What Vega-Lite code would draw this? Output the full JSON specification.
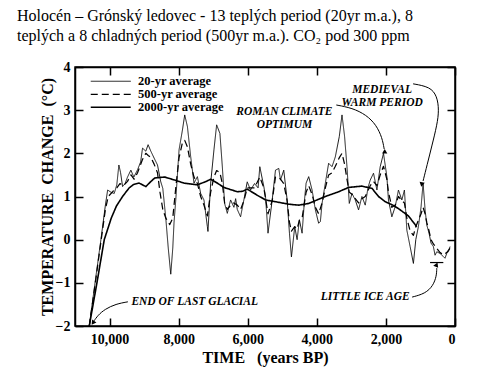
{
  "$schema": "https://vega.github.io/schema/vega-lite/v6.json",
  "width": 380,
  "height": 259,
  "autosize": {"type": "none"},
  "padding": {"left": 75, "top": 67, "right": 45, "bottom": 47},
  "background": "white",
  "title": {
    "text": ["Holocén – Grónský ledovec - 13 teplých period (20yr m.a.), 8", "teplých a 8 chladných period (500yr m.a.). CO₂ pod 300 ppm"],
    "anchor": "start", "frame": "group", "dx": -58, "offset": 16,
    "font": "Liberation Serif", "fontSize": 16, "fontWeight": "normal", "color": "black", "lineHeight": 20
  },
  "config": {
    "view": {"stroke": "black", "strokeWidth": 1.5},
    "axis": {
      "grid": false, "domainColor": "black", "domainWidth": 1.5, "tickColor": "black", "tickWidth": 1.5, "tickSize": -8,
      "labelFont": "Liberation Serif", "labelFontWeight": "bold", "labelFontSize": 14, "labelColor": "black",
      "titleFont": "Liberation Serif", "titleFontWeight": "bold", "titleFontSize": 16, "titleColor": "black"
    }
  },
  "datasets": {
    "series": [
      {"series":"20-yr average","year":10587,"temp":-2.0},{"series":"20-yr average","year":10420,"temp":-1.0},{"series":"20-yr average","year":10250,"temp":0.0},{"series":"20-yr average","year":10120,"temp":0.8},{"series":"20-yr average","year":10055,"temp":1.15},{"series":"20-yr average","year":9960,"temp":1.1},{"series":"20-yr average","year":9865,"temp":1.07},{"series":"20-yr average","year":9790,"temp":1.27},{"series":"20-yr average","year":9730,"temp":1.73},{"series":"20-yr average","year":9680,"temp":1.55},{"series":"20-yr average","year":9623,"temp":1.23},{"series":"20-yr average","year":9550,"temp":1.3},{"series":"20-yr average","year":9480,"temp":1.45},{"series":"20-yr average","year":9383,"temp":1.61},{"series":"20-yr average","year":9296,"temp":1.45},{"series":"20-yr average","year":9189,"temp":1.62},{"series":"20-yr average","year":9100,"temp":1.8},{"series":"20-yr average","year":9045,"temp":2.12},{"series":"20-yr average","year":8950,"temp":2.05},{"series":"20-yr average","year":8884,"temp":2.2},{"series":"20-yr average","year":8805,"temp":2.05},{"series":"20-yr average","year":8710,"temp":1.89},{"series":"20-yr average","year":8612,"temp":1.73},{"series":"20-yr average","year":8517,"temp":1.34},{"series":"20-yr average","year":8459,"temp":1.19},{"series":"20-yr average","year":8372,"temp":0.5},{"series":"20-yr average","year":8300,"temp":-0.2},{"series":"20-yr average","year":8228,"temp":-0.8},{"series":"20-yr average","year":8170,"temp":-0.2},{"series":"20-yr average","year":8133,"temp":0.4},{"series":"20-yr average","year":8083,"temp":0.92},{"series":"20-yr average","year":7988,"temp":2.08},{"series":"20-yr average","year":7890,"temp":2.54},{"series":"20-yr average","year":7824,"temp":2.89},{"series":"20-yr average","year":7746,"temp":2.62},{"series":"20-yr average","year":7651,"temp":1.92},{"series":"20-yr average","year":7555,"temp":1.31},{"series":"20-yr average","year":7457,"temp":1.46},{"series":"20-yr average","year":7362,"temp":1.07},{"series":"20-yr average","year":7267,"temp":0.92},{"series":"20-yr average","year":7168,"temp":0.3},{"series":"20-yr average","year":7151,"temp":0.19},{"series":"20-yr average","year":7073,"temp":1.31},{"series":"20-yr average","year":6978,"temp":2.08},{"series":"20-yr average","year":6900,"temp":2.66},{"series":"20-yr average","year":6805,"temp":2.46},{"series":"20-yr average","year":6735,"temp":1.69},{"series":"20-yr average","year":6669,"temp":0.84},{"series":"20-yr average","year":6591,"temp":0.61},{"series":"20-yr average","year":6496,"temp":0.92},{"series":"20-yr average","year":6400,"temp":0.75},{"series":"20-yr average","year":6350,"temp":0.95},{"series":"20-yr average","year":6302,"temp":0.7},{"series":"20-yr average","year":6207,"temp":0.53},{"series":"20-yr average","year":6112,"temp":0.92},{"series":"20-yr average","year":6014,"temp":1.34},{"series":"20-yr average","year":5918,"temp":1.15},{"series":"20-yr average","year":5803,"temp":1.3},{"series":"20-yr average","year":5700,"temp":1.2},{"series":"20-yr average","year":5650,"temp":1.69},{"series":"20-yr average","year":5534,"temp":1.23},{"series":"20-yr average","year":5485,"temp":1.0},{"series":"20-yr average","year":5413,"temp":0.15},{"series":"20-yr average","year":5292,"temp":0.92},{"series":"20-yr average","year":5197,"temp":1.61},{"series":"20-yr average","year":5101,"temp":1.65},{"series":"20-yr average","year":5052,"temp":1.38},{"series":"20-yr average","year":4957,"temp":1.61},{"series":"20-yr average","year":4859,"temp":0.92},{"series":"20-yr average","year":4792,"temp":0.15},{"series":"20-yr average","year":4735,"temp":-0.4},{"series":"20-yr average","year":4639,"temp":0.3},{"series":"20-yr average","year":4570,"temp":0.0},{"series":"20-yr average","year":4504,"temp":0.46},{"series":"20-yr average","year":4426,"temp":0.15},{"series":"20-yr average","year":4359,"temp":0.9},{"series":"20-yr average","year":4310,"temp":1.31},{"series":"20-yr average","year":4235,"temp":1.46},{"series":"20-yr average","year":4137,"temp":1.15},{"series":"20-yr average","year":4042,"temp":0.69},{"series":"20-yr average","year":3947,"temp":0.38},{"series":"20-yr average","year":3897,"temp":0.42},{"series":"20-yr average","year":3848,"temp":0.84},{"series":"20-yr average","year":3753,"temp":1.31},{"series":"20-yr average","year":3658,"temp":1.77},{"series":"20-yr average","year":3560,"temp":1.69},{"series":"20-yr average","year":3464,"temp":1.92},{"series":"20-yr average","year":3349,"temp":2.39},{"series":"20-yr average","year":3271,"temp":2.89},{"series":"20-yr average","year":3196,"temp":2.39},{"series":"20-yr average","year":3127,"temp":1.69},{"series":"20-yr average","year":3060,"temp":0.84},{"series":"20-yr average","year":2982,"temp":1.07},{"series":"20-yr average","year":2887,"temp":0.92},{"series":"20-yr average","year":2792,"temp":0.69},{"series":"20-yr average","year":2694,"temp":1.0},{"series":"20-yr average","year":2598,"temp":0.8},{"series":"20-yr average","year":2520,"temp":1.2},{"series":"20-yr average","year":2454,"temp":1.38},{"series":"20-yr average","year":2359,"temp":1.54},{"series":"20-yr average","year":2260,"temp":1.15},{"series":"20-yr average","year":2165,"temp":1.69},{"series":"20-yr average","year":2070,"temp":2.0},{"series":"20-yr average","year":1972,"temp":1.46},{"series":"20-yr average","year":1926,"temp":0.92},{"series":"20-yr average","year":1828,"temp":0.53},{"series":"20-yr average","year":1732,"temp":0.76},{"series":"20-yr average","year":1637,"temp":1.15},{"series":"20-yr average","year":1539,"temp":0.92},{"series":"20-yr average","year":1464,"temp":1.15},{"series":"20-yr average","year":1394,"temp":0.22},{"series":"20-yr average","year":1299,"temp":-0.16},{"series":"20-yr average","year":1204,"temp":-0.55},{"series":"20-yr average","year":1135,"temp":0.0},{"series":"20-yr average","year":1060,"temp":0.3},{"series":"20-yr average","year":982,"temp":0.76},{"series":"20-yr average","year":924,"temp":1.31},{"series":"20-yr average","year":866,"temp":0.69},{"series":"20-yr average","year":817,"temp":0.34},{"series":"20-yr average","year":751,"temp":0.15},{"series":"20-yr average","year":693,"temp":-0.08},{"series":"20-yr average","year":626,"temp":-0.16},{"series":"20-yr average","year":577,"temp":-0.36},{"series":"20-yr average","year":528,"temp":-0.28},{"series":"20-yr average","year":433,"temp":-0.32},{"series":"20-yr average","year":338,"temp":-0.39},{"series":"20-yr average","year":289,"temp":-0.43},{"series":"20-yr average","year":240,"temp":-0.32},{"series":"20-yr average","year":193,"temp":-0.28},{"series":"20-yr average","year":144,"temp":-0.16},
      {"series":"500-yr average","year":10587,"temp":-2.0},{"series":"500-yr average","year":10420,"temp":-1.05},{"series":"500-yr average","year":10250,"temp":-0.05},{"series":"500-yr average","year":10120,"temp":0.7},{"series":"500-yr average","year":10038,"temp":1.0},{"series":"500-yr average","year":9900,"temp":1.12},{"series":"500-yr average","year":9790,"temp":1.2},{"series":"500-yr average","year":9700,"temp":1.3},{"series":"500-yr average","year":9600,"temp":1.25},{"series":"500-yr average","year":9480,"temp":1.35},{"series":"500-yr average","year":9380,"temp":1.5},{"series":"500-yr average","year":9290,"temp":1.4},{"series":"500-yr average","year":9190,"temp":1.55},{"series":"500-yr average","year":9050,"temp":1.85},{"series":"500-yr average","year":8950,"temp":2.0},{"series":"500-yr average","year":8880,"temp":1.95},{"series":"500-yr average","year":8800,"temp":1.9},{"series":"500-yr average","year":8710,"temp":1.75},{"series":"500-yr average","year":8612,"temp":1.55},{"series":"500-yr average","year":8540,"temp":1.1},{"series":"500-yr average","year":8459,"temp":0.7},{"series":"500-yr average","year":8372,"temp":0.5},{"series":"500-yr average","year":8257,"temp":0.35},{"series":"500-yr average","year":8170,"temp":0.5},{"series":"500-yr average","year":8083,"temp":1.2},{"series":"500-yr average","year":7988,"temp":1.9},{"series":"500-yr average","year":7890,"temp":2.25},{"series":"500-yr average","year":7824,"temp":2.3},{"series":"500-yr average","year":7746,"temp":2.15},{"series":"500-yr average","year":7651,"temp":1.75},{"series":"500-yr average","year":7555,"temp":1.45},{"series":"500-yr average","year":7457,"temp":1.3},{"series":"500-yr average","year":7362,"temp":1.0},{"series":"500-yr average","year":7267,"temp":0.8},{"series":"500-yr average","year":7168,"temp":0.55},{"series":"500-yr average","year":7073,"temp":1.1},{"series":"500-yr average","year":6978,"temp":1.45},{"series":"500-yr average","year":6900,"temp":1.6},{"series":"500-yr average","year":6805,"temp":1.55},{"series":"500-yr average","year":6735,"temp":1.3},{"series":"500-yr average","year":6669,"temp":0.85},{"series":"500-yr average","year":6591,"temp":0.7},{"series":"500-yr average","year":6496,"temp":0.8},{"series":"500-yr average","year":6400,"temp":0.85},{"series":"500-yr average","year":6302,"temp":0.8},{"series":"500-yr average","year":6207,"temp":0.7},{"series":"500-yr average","year":6112,"temp":0.9},{"series":"500-yr average","year":6014,"temp":1.2},{"series":"500-yr average","year":5918,"temp":1.2},{"series":"500-yr average","year":5803,"temp":1.2},{"series":"500-yr average","year":5650,"temp":1.45},{"series":"500-yr average","year":5534,"temp":1.2},{"series":"500-yr average","year":5413,"temp":0.6},{"series":"500-yr average","year":5292,"temp":0.9},{"series":"500-yr average","year":5197,"temp":1.45},{"series":"500-yr average","year":5101,"temp":1.45},{"series":"500-yr average","year":5052,"temp":1.4},{"series":"500-yr average","year":4957,"temp":1.3},{"series":"500-yr average","year":4859,"temp":0.9},{"series":"500-yr average","year":4792,"temp":0.4},{"series":"500-yr average","year":4735,"temp":0.2},{"series":"500-yr average","year":4639,"temp":0.3},{"series":"500-yr average","year":4570,"temp":0.25},{"series":"500-yr average","year":4504,"temp":0.45},{"series":"500-yr average","year":4426,"temp":0.5},{"series":"500-yr average","year":4359,"temp":0.85},{"series":"500-yr average","year":4310,"temp":1.1},{"series":"500-yr average","year":4235,"temp":1.25},{"series":"500-yr average","year":4137,"temp":1.05},{"series":"500-yr average","year":4042,"temp":0.75},{"series":"500-yr average","year":3947,"temp":0.6},{"series":"500-yr average","year":3848,"temp":0.85},{"series":"500-yr average","year":3753,"temp":1.2},{"series":"500-yr average","year":3658,"temp":1.5},{"series":"500-yr average","year":3560,"temp":1.55},{"series":"500-yr average","year":3464,"temp":1.7},{"series":"500-yr average","year":3349,"temp":1.9},{"series":"500-yr average","year":3271,"temp":2.0},{"series":"500-yr average","year":3196,"temp":1.75},{"series":"500-yr average","year":3127,"temp":1.4},{"series":"500-yr average","year":3060,"temp":1.1},{"series":"500-yr average","year":2982,"temp":1.05},{"series":"500-yr average","year":2887,"temp":0.95},{"series":"500-yr average","year":2792,"temp":0.85},{"series":"500-yr average","year":2694,"temp":0.95},{"series":"500-yr average","year":2598,"temp":1.0},{"series":"500-yr average","year":2454,"temp":1.25},{"series":"500-yr average","year":2359,"temp":1.35},{"series":"500-yr average","year":2260,"temp":1.25},{"series":"500-yr average","year":2165,"temp":1.5},{"series":"500-yr average","year":2070,"temp":1.7},{"series":"500-yr average","year":1972,"temp":1.4},{"series":"500-yr average","year":1926,"temp":1.1},{"series":"500-yr average","year":1828,"temp":0.75},{"series":"500-yr average","year":1732,"temp":0.8},{"series":"500-yr average","year":1637,"temp":1.0},{"series":"500-yr average","year":1539,"temp":0.9},{"series":"500-yr average","year":1464,"temp":0.85},{"series":"500-yr average","year":1394,"temp":0.5},{"series":"500-yr average","year":1299,"temp":0.2},{"series":"500-yr average","year":1204,"temp":0.1},{"series":"500-yr average","year":1135,"temp":0.3},{"series":"500-yr average","year":1060,"temp":0.45},{"series":"500-yr average","year":982,"temp":0.6},{"series":"500-yr average","year":924,"temp":0.75},{"series":"500-yr average","year":866,"temp":0.6},{"series":"500-yr average","year":817,"temp":0.4},{"series":"500-yr average","year":751,"temp":0.2},{"series":"500-yr average","year":693,"temp":0.0},{"series":"500-yr average","year":626,"temp":-0.1},{"series":"500-yr average","year":528,"temp":-0.2},{"series":"500-yr average","year":433,"temp":-0.3},{"series":"500-yr average","year":338,"temp":-0.35},{"series":"500-yr average","year":240,"temp":-0.3},{"series":"500-yr average","year":144,"temp":-0.2},
      {"series":"2000-yr average","year":10587,"temp":-2.0},{"series":"2000-yr average","year":10365,"temp":-1.0},{"series":"2000-yr average","year":10153,"temp":0.0},{"series":"2000-yr average","year":9950,"temp":0.5},{"series":"2000-yr average","year":9800,"temp":0.78},{"series":"2000-yr average","year":9623,"temp":1.0},{"series":"2000-yr average","year":9432,"temp":1.2},{"series":"2000-yr average","year":9300,"temp":1.28},{"series":"2000-yr average","year":9143,"temp":1.31},{"series":"2000-yr average","year":8950,"temp":1.23},{"series":"2000-yr average","year":8800,"temp":1.35},{"series":"2000-yr average","year":8690,"temp":1.43},{"series":"2000-yr average","year":8401,"temp":1.45},{"series":"2000-yr average","year":8112,"temp":1.38},{"series":"2000-yr average","year":7844,"temp":1.31},{"series":"2000-yr average","year":7457,"temp":1.27},{"series":"2000-yr average","year":7200,"temp":1.35},{"series":"2000-yr average","year":7073,"temp":1.4},{"series":"2000-yr average","year":6900,"temp":1.32},{"series":"2000-yr average","year":6689,"temp":1.21},{"series":"2000-yr average","year":6302,"temp":1.11},{"series":"2000-yr average","year":6150,"temp":1.12},{"series":"2000-yr average","year":6013,"temp":1.17},{"series":"2000-yr average","year":5725,"temp":1.03},{"series":"2000-yr average","year":5485,"temp":0.92},{"series":"2000-yr average","year":5200,"temp":0.88},{"series":"2000-yr average","year":4800,"temp":0.82},{"series":"2000-yr average","year":4524,"temp":0.8},{"series":"2000-yr average","year":4235,"temp":0.84},{"series":"2000-yr average","year":3753,"temp":1.0},{"series":"2000-yr average","year":3369,"temp":1.11},{"series":"2000-yr average","year":3080,"temp":1.21},{"series":"2000-yr average","year":2700,"temp":1.24},{"series":"2000-yr average","year":2405,"temp":1.19},{"series":"2000-yr average","year":2214,"temp":1.0},{"series":"2000-yr average","year":2021,"temp":0.88},{"series":"2000-yr average","year":1800,"temp":0.8},{"series":"2000-yr average","year":1637,"temp":0.72},{"series":"2000-yr average","year":1348,"temp":0.55},{"series":"2000-yr average","year":1107,"temp":0.3}
    ],
    "notes": [
      {"label":"ROMAN CLIMATE\nOPTIMUM","year":4937,"temp":2.96},
      {"label":"MEDIEVAL\nWARM PERIOD","year":2110,"temp":3.46},
      {"label":"END OF LAST GLACIAL","year":7535,"temp":-1.44},
      {"label":"LITTLE ICE AGE","year":2598,"temp":-1.33}
    ],
    "arrows": [
      {"arrow":"end","order":1,"year":9469,"temp":-1.44},{"arrow":"end","order":2,"year":9816,"temp":-1.49},{"arrow":"end","order":3,"year":10133,"temp":-1.61},{"arrow":"end","order":4,"year":10335,"temp":-1.75},{"arrow":"end","order":5,"year":10465,"temp":-1.9},
      {"arrow":"lia","order":1,"year":1241,"temp":-1.33},{"arrow":"lia","order":2,"year":866,"temp":-1.25},{"arrow":"lia","order":3,"year":635,"temp":-1.07},{"arrow":"lia","order":4,"year":534,"temp":-0.84},{"arrow":"lia","order":5,"year":528,"temp":-0.66},
      {"arrow":"medieval","order":1,"year":1213,"temp":3.61},{"arrow":"medieval","order":2,"year":722,"temp":3.54},{"arrow":"medieval","order":3,"year":520,"temp":3.33},{"arrow":"medieval","order":4,"year":462,"temp":3.0},{"arrow":"medieval","order":5,"year":520,"temp":2.66},{"arrow":"medieval","order":6,"year":664,"temp":2.19},{"arrow":"medieval","order":7,"year":808,"temp":1.73},{"arrow":"medieval","order":8,"year":924,"temp":1.36},
      {"arrow":"roman","order":1,"year":3436,"temp":3.12},{"arrow":"roman","order":2,"year":2974,"temp":3.05},{"arrow":"roman","order":3,"year":2569,"temp":2.89},{"arrow":"roman","order":4,"year":2281,"temp":2.66},{"arrow":"roman","order":5,"year":2108,"temp":2.36},{"arrow":"roman","order":6,"year":2050,"temp":2.1}
    ],
    "tips": [
      {"arrow":"end","year":10480,"temp":-1.93},
      {"arrow":"lia","year":528,"temp":-0.61},
      {"arrow":"medieval","year":938,"temp":1.3},
      {"arrow":"roman","year":2035,"temp":2.05}
    ],
    "bracket": [
      {"start":722,"end":338,"temp":-0.53}
    ]
  },
  "layer": [
    {
      "data": {"name": "series"},
      "mark": {"type": "line", "color": "black", "strokeJoin": "round"},
      "encoding": {
        "x": {"field": "year", "type": "quantitative",
          "scale": {"domain": [0, 11000], "reverse": true, "nice": false, "zero": false},
          "axis": {"orient": "bottom", "values": [0, 2000, 4000, 6000, 8000, 10000], "format": ",d", "title": "TIME\u00a0\u00a0\u00a0(years BP)", "labelPadding": 14, "titlePadding": 3}},
        "y": {"field": "temp", "type": "quantitative",
          "scale": {"domain": [-2, 4], "nice": false, "zero": false},
          "axis": {"orient": "left", "values": [-2, -1, 0, 1, 2, 3, 4], "title": "TEMPERATURE\u00a0\u00a0CHANGE\u00a0\u00a0(°C)", "labelPadding": 13, "titlePadding": 0}},
        "strokeDash": {"field": "series", "type": "nominal",
          "scale": {"domain": ["20-yr average", "500-yr average", "2000-yr average"], "range": [[1, 0], [7, 4], [1, 0]]},
          "legend": {"title": null, "orient": "none", "legendX": 29.5, "legendY": 8, "padding": 0, "rowPadding": 0, "symbolType": "M-4,0L4,0", "symbolSize": 100, "labelOffset": 21, "labelFont": "Liberation Serif", "labelFontWeight": "bold", "labelFontSize": 12.5, "labelColor": "black", "symbolStrokeColor": "black"}},
        "strokeWidth": {"field": "series", "type": "nominal",
          "scale": {"domain": ["20-yr average", "500-yr average", "2000-yr average"], "range": [0.9, 1.6, 2.6]},
          "legend": {"title": null, "orient": "none", "legendX": 29.5, "legendY": 8, "padding": 0, "rowPadding": 0, "symbolType": "M-4,0L4,0", "symbolSize": 100, "labelOffset": 21, "labelFont": "Liberation Serif", "labelFontWeight": "bold", "labelFontSize": 12.5, "labelColor": "black", "symbolStrokeColor": "black"}}
      }
    },
    {
      "data": {"name": "bracket"},
      "mark": {"type": "rule", "color": "black", "strokeWidth": 1.2},
      "encoding": {
        "x": {"field": "start", "type": "quantitative",
          "scale": {"domain": [0, 11000], "reverse": true, "nice": false, "zero": false},
          "axis": {"orient": "top", "values": [0, 2000, 4000, 6000, 8000, 10000], "labels": false, "title": null}},
        "x2": {"field": "end"},
        "y": {"field": "temp", "type": "quantitative",
          "scale": {"domain": [-2, 4], "nice": false, "zero": false},
          "axis": {"orient": "right", "values": [-2, -1, 0, 1, 2, 3, 4], "labels": false, "title": null}}
      }
    },
    {
      "data": {"name": "arrows"},
      "mark": {"type": "line", "color": "black", "strokeWidth": 1, "interpolate": "basis"},
      "encoding": {
        "x": {"field": "year", "type": "quantitative", "scale": {"domain": [0, 11000], "reverse": true, "nice": false, "zero": false}, "axis": null},
        "y": {"field": "temp", "type": "quantitative", "scale": {"domain": [-2, 4], "nice": false, "zero": false}, "axis": null},
        "detail": {"field": "arrow", "type": "nominal"},
        "order": {"field": "order", "type": "quantitative"}
      }
    },
    {
      "data": {"name": "tips"},
      "mark": {"type": "point", "shape": "triangle-up", "filled": true, "color": "black", "size": 28, "opacity": 1},
      "encoding": {
        "x": {"field": "year", "type": "quantitative", "scale": {"domain": [0, 11000], "reverse": true, "nice": false, "zero": false}, "axis": null},
        "y": {"field": "temp", "type": "quantitative", "scale": {"domain": [-2, 4], "nice": false, "zero": false}, "axis": null},
        "angle": {"field": "arrow", "type": "nominal", "scale": {"domain": ["end", "lia", "medieval", "roman"], "range": [215, 0, 195, 175]}, "legend": null}
      }
    },
    {
      "data": {"name": "notes"},
      "mark": {"type": "text", "font": "Liberation Serif", "fontWeight": "bold", "fontStyle": "italic", "fontSize": 11.5, "color": "black", "align": "center", "baseline": "middle", "lineBreak": "\n", "lineHeight": 13},
      "encoding": {
        "x": {"field": "year", "type": "quantitative", "scale": {"domain": [0, 11000], "reverse": true, "nice": false, "zero": false}, "axis": null},
        "y": {"field": "temp", "type": "quantitative", "scale": {"domain": [-2, 4], "nice": false, "zero": false}, "axis": null},
        "text": {"field": "label", "type": "nominal"}
      }
    }
  ],
  "resolve": {"axis": {"x": "independent", "y": "independent"}}
}
